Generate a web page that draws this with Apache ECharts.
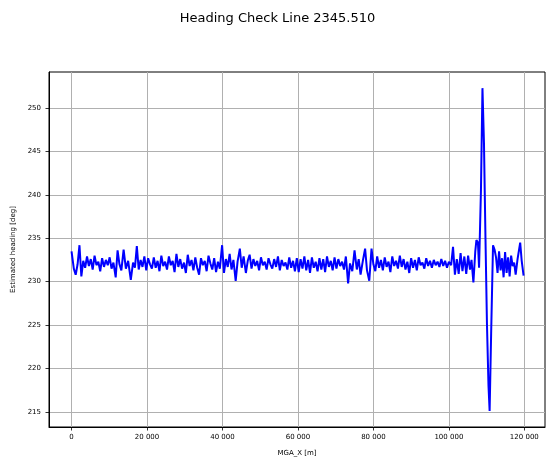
<!DOCTYPE html>
<html>
<head>
<meta charset="utf-8">
<title>Heading Check Line 2345.510</title>
<script src="https://cdn.jsdelivr.net/npm/echarts@6/dist/echarts.min.js"></script>
<style>
  html, body { margin: 0; padding: 0; background: #fff; }
  #chart { width: 555px; height: 469px; }
</style>
</head>
<body>
<div id="chart"></div>
<script>
// MGA_X positions [m]
const mgaX = [
  0, 600, 1100, 1600, 2100, 2600, 3100, 3600, 4100, 4600,
  5100, 5600, 6100, 6600, 7100, 7600, 8100, 8600, 9100, 9600,
  10100, 10600, 11100, 11700, 12200, 12700, 13200, 13800, 14400, 15000,
  15700, 16300, 16800, 17300, 17800, 18300, 18800, 19300, 19800, 20300,
  20800, 21300, 21800, 22300, 22800, 23300, 23800, 24300, 24800, 25300,
  25800, 26300, 26800, 27300, 27800, 28300, 28800, 29300, 29800, 30300,
  30800, 31300, 31800, 32300, 32800, 33300, 33800, 34300, 34800, 35300,
  35800, 36300, 36800, 37300, 37800, 38300, 38800, 39300, 39900, 40400,
  40900, 41400, 41900, 42400, 42900, 43500, 44000, 44600, 45100, 45600,
  46200, 46700, 47200, 47700, 48200, 48700, 49200, 49700, 50200, 50700,
  51200, 51700, 52200, 52700, 53200, 53700, 54200, 54700, 55200, 55700,
  56200, 56700, 57200, 57700, 58200, 58700, 59200, 59700, 60200, 60700,
  61200, 61700, 62200, 62700, 63200, 63700, 64200, 64700, 65200, 65700,
  66200, 66700, 67200, 67700, 68200, 68700, 69200, 69700, 70200, 70700,
  71200, 71700, 72200, 72700, 73300, 73800, 74400, 75000, 75600, 76100,
  76600, 77200, 77800, 78300, 78900, 79500, 80000, 80500, 81000, 81500,
  82000, 82500, 83000, 83500, 84000, 84500, 85000, 85500, 86000, 86500,
  87000, 87500, 88000, 88500, 89000, 89500, 90000, 90500, 91000, 91500,
  92000, 92500, 93000, 93500, 94000, 94500, 95000, 95500, 96000, 96500,
  97000, 97500, 98000, 98500, 99000, 99500, 100000, 100600, 101100, 101600,
  102100, 102600, 103100, 103600, 104100, 104600, 105100, 105600, 106000, 106500,
  107000, 107300, 107700, 108000, 108500, 108900, 109300, 109700, 110100, 110500,
  110800, 111200, 111700, 112100, 112500, 112900, 113300, 113700, 114100, 114500,
  114900, 115300, 115700, 116100, 116500, 116900, 117300, 117700, 118200, 118900,
  119300, 119800
];

// estimated heading [deg]
const heading = [
  233.5, 231.5, 230.8, 232.0, 234.2, 230.6, 232.4, 231.6, 232.9, 231.8,
  232.6, 231.4, 233.0, 231.9, 232.3, 231.2, 232.7, 231.7, 232.5, 231.9,
  232.8, 231.5, 232.2, 230.5, 233.6, 232.0, 231.3, 233.7, 231.5, 232.4,
  230.2, 232.2, 231.6, 234.1, 231.4, 232.5, 231.7, 232.9, 231.3, 232.7,
  232.0, 231.5, 232.8, 231.6, 232.4, 231.2, 233.0, 231.8, 232.3, 231.4,
  232.9, 231.9, 232.4, 231.1, 233.2, 231.7, 232.6, 231.5, 232.2, 231.0,
  233.1, 231.8, 232.5, 231.3, 232.8, 231.6, 230.8, 232.7, 231.9, 232.4,
  231.2, 233.0, 232.1, 231.4, 232.7, 231.1, 232.3, 231.5, 234.2, 231.0,
  232.6, 231.7, 233.2, 231.4, 232.5, 230.1, 232.3, 233.8, 231.6, 232.9,
  231.0, 232.4, 233.1, 231.5, 232.6, 231.8, 232.4, 231.3, 232.8, 231.9,
  232.3, 231.4, 232.7, 232.0, 231.5, 232.6, 231.7, 232.9, 231.3, 232.5,
  231.8, 232.2, 231.4, 232.8, 231.6, 232.4, 231.2, 232.7, 231.1, 232.6,
  231.5, 232.9, 231.3, 232.5, 231.0, 232.8, 231.6, 232.3, 231.2, 232.7,
  231.4, 232.6, 231.1, 232.9, 231.7, 232.4, 231.3, 232.8, 231.5, 232.6,
  231.8, 232.3, 231.4, 232.9, 229.8, 232.1, 231.2, 233.6, 231.4, 232.6,
  230.8, 232.4, 233.8, 231.3, 230.1, 233.8, 232.0, 231.2, 232.9, 231.6,
  232.5, 231.3, 232.8, 231.7, 232.3, 231.1, 232.9, 231.8, 232.4, 231.5,
  233.0, 231.7, 232.6, 231.4, 232.3, 231.0, 232.7, 231.6, 232.5, 231.3,
  232.8, 231.9, 232.2, 231.5, 232.7, 231.8, 232.4, 231.6, 232.5, 231.9,
  232.3, 231.7, 232.6, 231.8, 232.4, 231.6, 232.3, 231.9, 234.0, 230.8,
  232.6, 230.9, 233.3, 231.2, 232.9, 230.9, 233.0, 231.4, 232.5, 229.9,
  233.5, 234.8, 234.5, 231.6, 240.5, 252.3, 246.0, 235.0, 225.0, 218.0,
  215.1, 224.0, 234.2, 233.7, 232.8, 231.0, 233.5, 231.3, 232.7, 230.5,
  233.4, 231.0, 232.8, 230.6, 233.0, 231.8, 232.2, 230.8, 232.6, 234.5,
  232.4, 230.7
];

const xTicks = [0, 20000, 40000, 60000, 80000, 100000, 120000];
const yTicks = [215, 220, 225, 230, 235, 240, 245, 250];

const FONT = 'DejaVu Sans';

const chart = echarts.init(document.getElementById('chart'));

const fmtThousands = v => String(Math.round(v)).replace(/\B(?=(\d{3})+(?!\d))/g, ' ');

const option = {
  animation: false,
  backgroundColor: '#fff',
  title: {
    text: 'Heading Check Line 2345.510',
    left: 'center',
    top: 7,
    textStyle: { fontFamily: FONT, fontSize: 13, fontWeight: 'normal', color: '#000' }
  },
  grid: {
    left: 49, right: 10, top: 72, bottom: 42,
    show: true, borderColor: '#000', borderWidth: 1, backgroundColor: 'transparent'
  },
  xAxis: {
    type: 'value',
    min: -5975,
    max: 125475,
    splitNumber: 6,
    name: 'MGA_X [m]',
    nameLocation: 'middle',
    nameGap: 23,
    nameTextStyle: { fontFamily: FONT, fontSize: 7, color: '#000' },
    axisLine: { show: true, onZero: false, lineStyle: { color: '#000', width: 1 } },
    axisTick: { show: true, length: 3.5, customValues: xTicks, lineStyle: { color: '#000', width: 0.8 } },
    axisLabel: {
      customValues: xTicks,
      margin: 7, fontFamily: FONT, fontSize: 7, color: '#000',
      formatter: fmtThousands
    },
    splitLine: { show: true, lineStyle: { color: '#b0b0b0', width: 1 } }
  },
  yAxis: {
    type: 'value',
    min: 213.25,
    max: 254.16,
    splitNumber: 8,
    name: 'Estimated heading [deg]',
    nameLocation: 'middle',
    nameGap: 30,
    nameTextStyle: { fontFamily: FONT, fontSize: 7, color: '#000' },
    axisLine: { show: true, onZero: false, lineStyle: { color: '#000', width: 1 } },
    axisTick: { show: true, length: 3.5, customValues: yTicks, lineStyle: { color: '#000', width: 0.8 } },
    axisLabel: {
      customValues: yTicks,
      margin: 8, fontFamily: FONT, fontSize: 7, color: '#000'
    },
    splitLine: { show: true, lineStyle: { color: '#b0b0b0', width: 1 } }
  },
  series: [{
    type: 'line',
    data: mgaX.map((x, i) => [x, heading[i]]),
    showSymbol: false,
    symbol: 'none',
    lineStyle: { color: '#0000ff', width: 2 },
    z: 3
  }]
};

chart.setOption(option);
</script>
</body>
</html>
